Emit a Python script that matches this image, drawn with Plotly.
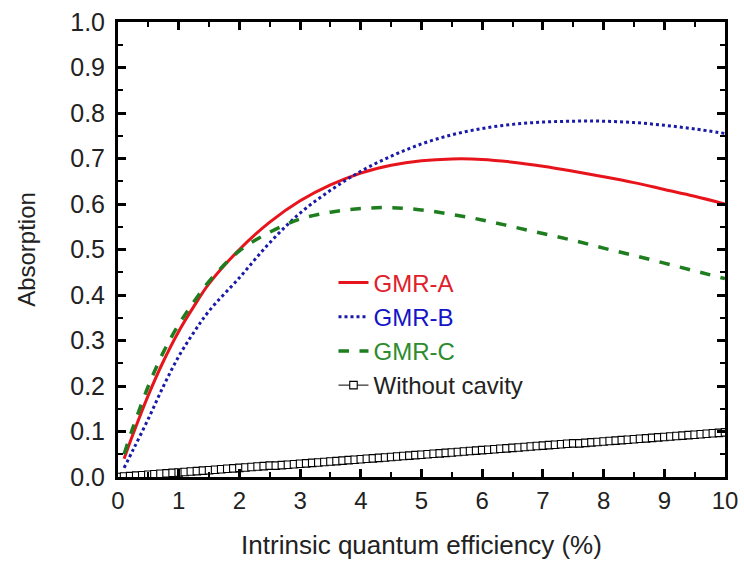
import numpy as np
import plotly.graph_objects as go

# ---------------- data ----------------
x_curve = [0.1, 0.25, 0.5, 0.75, 1, 1.25, 1.5, 2, 2.5, 3, 3.5, 4, 4.5, 5,
           5.5, 6, 6.5, 7, 7.5, 8, 8.5, 9, 9.5, 10]
gmr_a = [0.04, 0.095, 0.18, 0.255, 0.32, 0.375, 0.425, 0.50, 0.56, 0.607,
         0.642, 0.668, 0.685, 0.695, 0.699, 0.698, 0.692, 0.683, 0.672, 0.66,
         0.647, 0.632, 0.617, 0.60]
gmr_b = [0.02, 0.06, 0.128, 0.2, 0.265, 0.318, 0.365, 0.438, 0.515, 0.58,
         0.63, 0.672, 0.705, 0.732, 0.752, 0.766, 0.775, 0.78, 0.782, 0.782,
         0.779, 0.773, 0.765, 0.755]
gmr_c = [0.05, 0.11, 0.2, 0.275, 0.335, 0.385, 0.43, 0.497, 0.538, 0.567,
         0.582, 0.59, 0.592, 0.587, 0.577, 0.565, 0.55, 0.535, 0.52, 0.503,
         0.487, 0.47, 0.453, 0.436]

x_wc = [round(0.1 * k, 1) for k in range(101)]
without_cavity = [
    0.000, 0.001, 0.002, 0.003, 0.004, 0.005, 0.006, 0.007, 0.008, 0.009,
    0.010, 0.011, 0.012, 0.013, 0.014, 0.015, 0.016, 0.017, 0.018, 0.019,
    0.020, 0.021, 0.022, 0.023, 0.024, 0.025, 0.025, 0.026, 0.027, 0.028,
    0.029, 0.030, 0.031, 0.032, 0.033, 0.034, 0.035, 0.036, 0.037, 0.038,
    0.039, 0.040, 0.041, 0.042, 0.043, 0.044, 0.045, 0.046, 0.047, 0.048,
    0.049, 0.050, 0.051, 0.052, 0.053, 0.054, 0.055, 0.056, 0.057, 0.058,
    0.059, 0.060, 0.061, 0.062, 0.063, 0.064, 0.065, 0.066, 0.067, 0.068,
    0.069, 0.070, 0.071, 0.072, 0.073, 0.074, 0.074, 0.075, 0.076, 0.077,
    0.078, 0.079, 0.080, 0.081, 0.082, 0.083, 0.084, 0.085, 0.086, 0.087,
    0.088, 0.089, 0.090, 0.091, 0.092, 0.093, 0.094, 0.095, 0.096, 0.097,
    0.098]

x_ticks = list(range(0, 11))
y_ticks = [round(0.1 * k, 1) for k in range(11)]

# ---------------- figure ----------------
FONT = "Liberation Sans, Arial, sans-serif"

fig = go.Figure()
fig.add_trace(go.Scatter(
    x=x_curve, y=gmr_a, mode="lines", line_shape="spline",
    line=dict(color="#e8141c", width=3),
    name="<span style='color:#e0202a'>GMR-A</span>"))
fig.add_trace(go.Scatter(
    x=x_curve, y=gmr_b, mode="lines", line_shape="spline",
    line=dict(color="#1a1aa8", width=3, dash="dot"),
    name="<span style='color:#1414c8'>GMR-B</span>"))
fig.add_trace(go.Scatter(
    x=x_curve, y=gmr_c, mode="lines", line_shape="spline",
    line=dict(color="#1e7d1e", width=3.5, dash="dash"),
    name="<span style='color:#2e8b2e'>GMR-C</span>"))
fig.add_trace(go.Scatter(
    x=x_wc, y=without_cavity, mode="lines+markers",
    line=dict(color="black", width=1),
    marker=dict(symbol="square", size=7.5, color="white",
                line=dict(width=1.1, color="black")),
    name="Without cavity"))

axis_common = dict(
    showline=True, linecolor="black", linewidth=3, mirror="allticks",
    ticks="inside", ticklen=8, tickwidth=2.5, tickcolor="black",
    showgrid=False, zeroline=False,
)

fig.update_xaxes(
    range=[0, 10], tickvals=x_ticks,
    tickfont=dict(family=FONT, size=24, color="#222"),
    title=dict(text="Intrinsic quantum efficiency (%)",
               font=dict(family=FONT, size=26, color="#222"), standoff=24),
    minor=dict(ticks="inside", ticklen=5, tickwidth=2, tickcolor="black", dtick=0.5),
    **axis_common)
fig.update_yaxes(
    range=[0, 1.0], tickvals=y_ticks, tickformat=".1f",
    tickfont=dict(family=FONT, size=25, color="#222"),
    ticklabelstandoff=5,
    title=dict(text="Absorption", font=dict(family=FONT, size=24, color="#222"),
               standoff=28),
    minor=dict(ticks="inside", ticklen=5, tickwidth=2, tickcolor="black", dtick=0.05),
    **axis_common)

fig.update_layout(
    width=744, height=567,
    margin=dict(l=118, r=19, t=22, b=90, autoexpand=False),
    paper_bgcolor="white", plot_bgcolor="white",
    showlegend=True,
    legend=dict(x=0.355, y=0.476, xanchor="left", yanchor="top",
                bgcolor="rgba(0,0,0,0)", borderwidth=0,
                font=dict(family=FONT, size=24, color="#222"),
                tracegroupgap=0, itemwidth=30),
)

fig.write_html("out.html")
